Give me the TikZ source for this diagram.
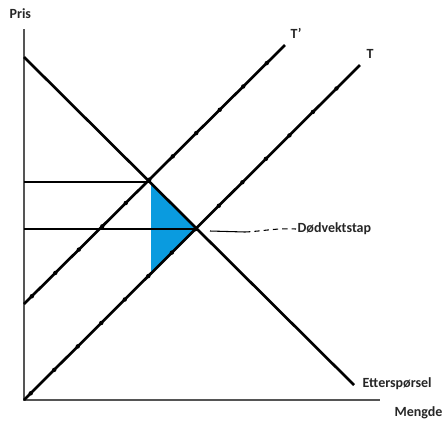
\documentclass[tikz,border=0pt]{standalone}
\usepackage{fontspec}
\setmainfont{Carlito}
\usepackage{tikz}
\usetikzlibrary{calc,positioning}
\definecolor{lossfill}{HTML}{0A9BDF}
\definecolor{axisgray}{HTML}{555555}
\tikzset{
  curve/.style={line width=2pt,black},
  axisline/.style={line width=1.3pt,color=axisgray},
  helpline/.style={line width=1pt,black},
  lbl/.style={font=\fontsize{10.5}{12}\selectfont\bfseries,text=black!85,inner sep=1pt}
}

\begin{document}
\begin{tikzpicture}[x=0.75pt,y=-0.75pt]
        \useasboundingbox (0,0) rectangle (444,426);
        % axes
        \coordinate (O) at (24,400);
        \coordinate (ytop) at (24,29);
        \coordinate (xend) at (380,400);
        \draw[axisline] (ytop) -- (O) -- (xend);
        \node[lbl,anchor=west] (pris) at (8,14) {Pris};
        \node[lbl,anchor=west] (mengde) at (393,413) {Mengde};
        % lines
        \coordinate (d0) at (24,57);
        \coordinate (d1) at (354,385);
        \coordinate (t0) at (24,400);
        \coordinate (t1) at (360,65);
        \coordinate (s0) at (24,304);
        \coordinate (s1) at (285,45);
        \coordinate (A) at (151,182);
        \coordinate (E) at (197,229);
        \coordinate (B) at (151,274);
        % deadweight loss
        \fill[lossfill] (A) -- (E) -- (B) -- cycle;
        \draw[helpline] (24,182) -- (A);
        \draw[helpline] (24,229) -- (E);
        \draw[curve] (d0) -- (d1);
        \draw[curve] (t0) -- (t1);
        \draw[curve] (s0) -- (s1);
        \foreach \t in {0.02,0.09,...,0.98}{
          \fill ($(t0)!\t!(t1)$) circle[radius=2.2];
        }
        \foreach \t in {0.03,0.12,...,0.98}{
          \fill ($(s0)!\t!(s1)$) circle[radius=2.2];
        }
        \node[lbl,anchor=south west] (tp) at (289,40) {T'};
        \node[lbl,anchor=south west] (tt) at (365,60) {T};
        \node[lbl,anchor=west] (eters) at (361,384) {Etterspørsel};
        \node[lbl,anchor=west] (dvt) at (296,229) {Dødvektstap};
        \draw[line width=0.8pt] (210,231) -- (245,232);
        \draw[line width=0.8pt,dash pattern=on 4pt off 3pt] (245,232) .. controls (265,231) and (275,228) .. (dvt.west);
      \end{tikzpicture}
\end{document}
